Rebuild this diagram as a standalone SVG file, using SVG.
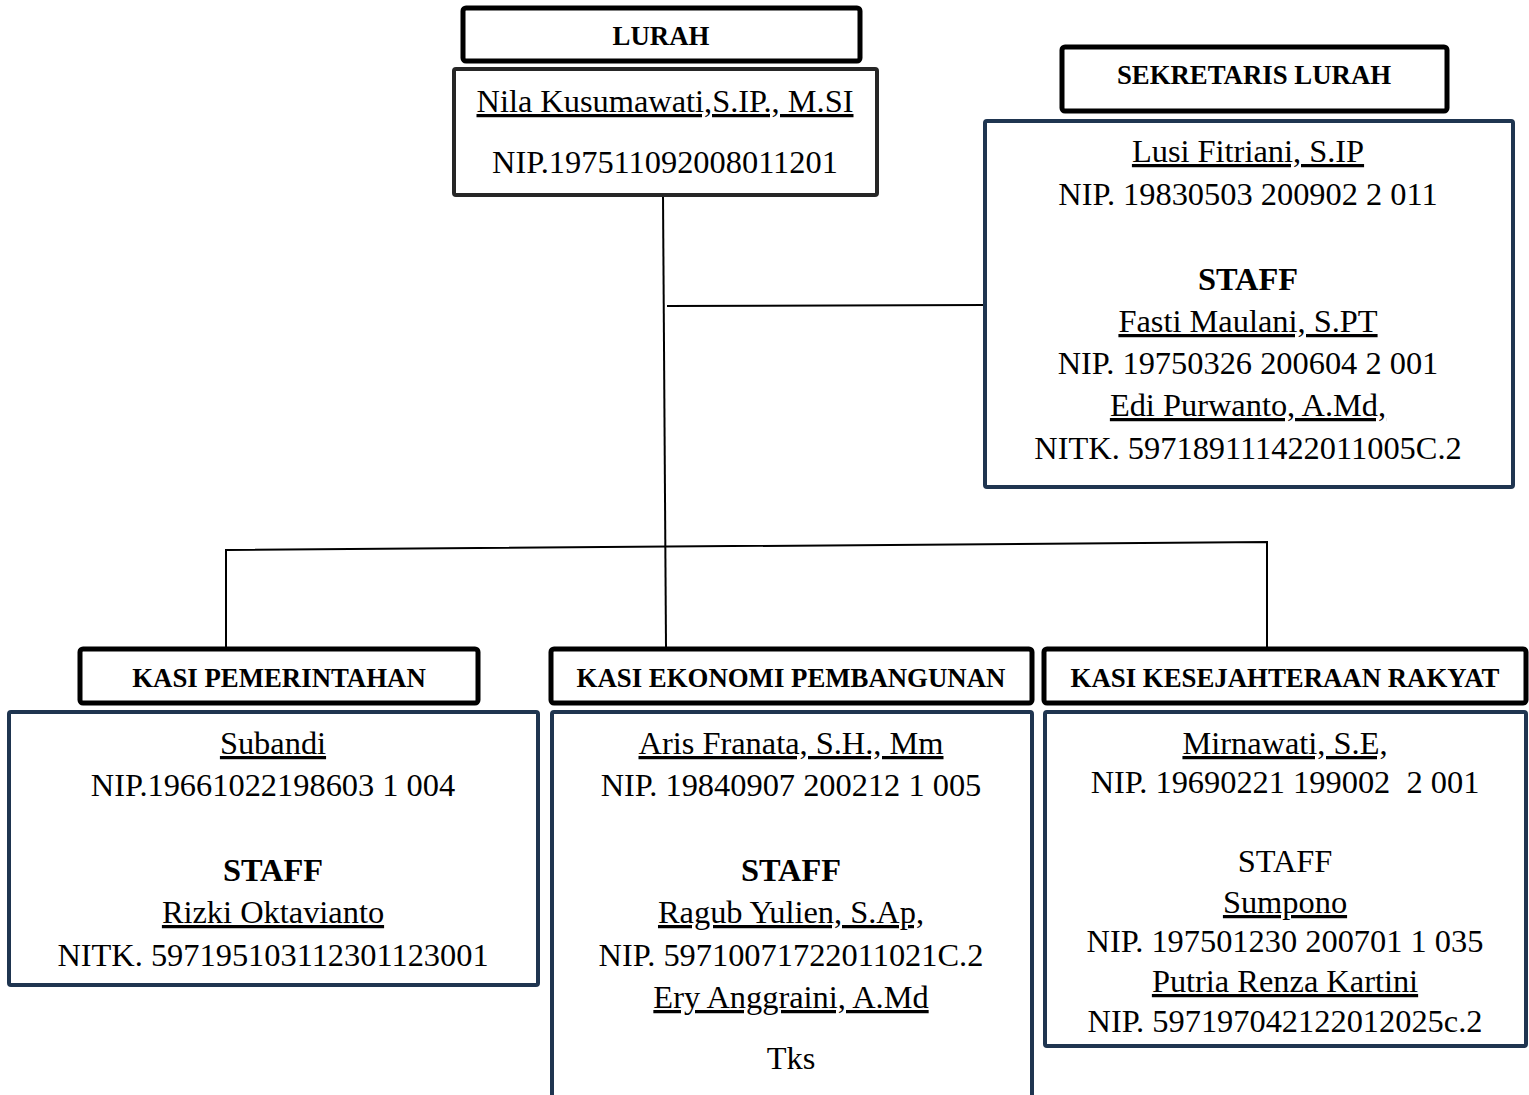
<svg xmlns="http://www.w3.org/2000/svg" width="1529" height="1095" viewBox="0 0 1529 1095">
<style>
.hdr{fill:#fff;stroke:#000;stroke-width:5}
.bodyk{fill:#fff;stroke:#262626;stroke-width:4}
.bodyn{fill:#fff;stroke:#1f3550;stroke-width:4}
.h{font-family:"Liberation Serif","Times New Roman",serif;font-weight:bold;font-size:26.8px;text-anchor:middle;fill:#000}
.t{font-family:"Liberation Serif","Times New Roman",serif;font-size:32.4px;text-anchor:middle;fill:#000}
.b{font-weight:bold}
.u{text-decoration:underline}
.c{fill:none;stroke:#000;stroke-width:2}
</style>
<rect width="1529" height="1095" fill="#fff"/>
<g id="connectors">
<path class="c" d="M663 195 L666 647"/>
<path class="c" d="M667 306 L985 305"/>
<path class="c" d="M226 648 L226 550 L1267 542 L1267 647"/>
</g>
<g id="lurah">
<rect class="hdr" x="463" y="8" width="397" height="53" rx="3"/>
<text class="h" x="661" y="45">LURAH</text>
<rect class="bodyk" x="454" y="69" width="423" height="126" rx="2"/>
<text class="t u" x="665" y="112">Nila Kusumawati,S.IP., M.SI</text>
<text class="t" x="665" y="173">NIP.197511092008011201</text>
</g>
<g id="sekretaris">
<rect class="hdr" x="1062" y="47" width="385" height="64" rx="3"/>
<text class="h" x="1254" y="84">SEKRETARIS LURAH</text>
<rect class="bodyn" x="985" y="121" width="528" height="366" rx="2"/>
<text class="t u" x="1248" y="162">Lusi Fitriani, S.IP</text>
<text class="t" x="1248" y="205">NIP. 19830503 200902 2 011</text>
<text class="t b" x="1248" y="290">STAFF</text>
<text class="t u" x="1248" y="332">Fasti Maulani, S.PT</text>
<text class="t" x="1248" y="374">NIP. 19750326 200604 2 001</text>
<text class="t u" x="1248" y="416">Edi Purwanto, A.Md,</text>
<text class="t" x="1248" y="459">NITK. 597189111422011005C.2</text>
</g>
<g id="kasi-pemerintahan">
<rect class="hdr" x="80" y="649" width="398" height="54" rx="3"/>
<text class="h" x="279" y="687">KASI PEMERINTAHAN</text>
<rect class="bodyn" x="9" y="712" width="529" height="273" rx="2"/>
<text class="t u" x="273" y="754">Subandi</text>
<text class="t" x="273" y="796">NIP.19661022198603 1 004</text>
<text class="t b" x="273" y="881">STAFF</text>
<text class="t u" x="273" y="923">Rizki Oktavianto</text>
<text class="t" x="273" y="966">NITK. 597195103112301123001</text>
</g>
<g id="kasi-ekonomi">
<rect class="hdr" x="551" y="649" width="481" height="54" rx="3"/>
<text class="h" x="791" y="687">KASI EKONOMI PEMBANGUNAN</text>
<rect class="bodyn" x="552" y="712" width="480" height="400" rx="2"/>
<text class="t u" x="791" y="754">Aris Franata, S.H., Mm</text>
<text class="t" x="791" y="796">NIP. 19840907 200212 1 005</text>
<text class="t b" x="791" y="881">STAFF</text>
<text class="t u" x="791" y="923">Ragub Yulien, S.Ap,</text>
<text class="t" x="791" y="966">NIP. 59710071722011021C.2</text>
<text class="t u" x="791" y="1008">Ery Anggraini, A.Md</text>
<text class="t" x="791" y="1069">Tks</text>
</g>
<g id="kasi-kesejahteraan">
<rect class="hdr" x="1044" y="649" width="482" height="54" rx="3"/>
<text class="h" x="1285" y="687">KASI KESEJAHTERAAN RAKYAT</text>
<rect class="bodyn" x="1045" y="712" width="481" height="334" rx="2"/>
<text class="t u" x="1285" y="754">Mirnawati, S.E,</text>
<text class="t" x="1285" y="793" xml:space="preserve">NIP. 19690221 199002  2 001</text>
<text class="t" x="1285" y="872">STAFF</text>
<text class="t u" x="1285" y="913">Sumpono</text>
<text class="t" x="1285" y="952">NIP. 197501230 200701 1 035</text>
<text class="t u" x="1285" y="992">Putria Renza Kartini</text>
<text class="t" x="1285" y="1032">NIP. 597197042122012025c.2</text>
</g>
</svg>
